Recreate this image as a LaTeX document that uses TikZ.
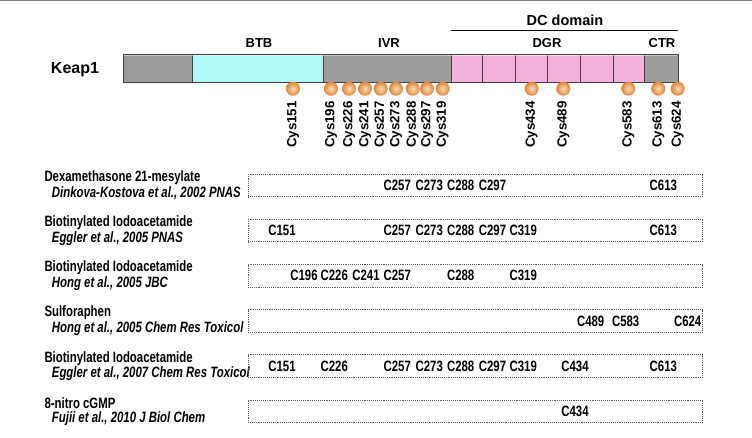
\documentclass[tikz,border=0pt]{standalone}
\usepackage{fontspec}
\setmainfont{Liberation Sans}
\newfontfamily\condfont[FakeStretch=0.76]{Liberation Sans}
\usepackage{xcolor}
\usetikzlibrary{calc}

\definecolor{keapgray}{RGB}{156,156,156}
\definecolor{btbcyan}{RGB}{176,248,248}
\definecolor{dgrpink}{RGB}{246,178,222}
\definecolor{ballhi}{RGB}{252,222,184}
\definecolor{balledge}{RGB}{222,132,58}

\tikzset{
  seg/.style={draw=black!75,line width=0.8pt},
  dom/.style={inner sep=0pt,font=\bfseries\fontsize{13}{15}\selectfont},
  cysball/.style={circle,inner sep=0pt,minimum size=14pt,shading=radial,inner color=ballhi,outer color=balledge},
  cyslab/.style={rotate=90,anchor=east,inner sep=0pt,font=\bfseries\fontsize{13.3}{15}\selectfont},
  agent/.style={anchor=west,inner sep=0pt,font=\condfont\bfseries\fontsize{15}{17}\selectfont},
  ref/.style={anchor=west,inner sep=0pt,font=\condfont\bfseries\itshape\fontsize{15}{17}\selectfont},
  rowbox/.style={draw=black!65,densely dotted,line width=0.9pt,minimum width=454.5pt,minimum height=22.5pt,inner sep=0pt},
  site/.style={inner sep=0pt,font=\condfont\bfseries\fontsize{15}{17}\selectfont}
}

\begin{document}
\begin{tikzpicture}[x=1pt,y=-1pt]
  \useasboundingbox (0,0) rectangle (752,437);
  % frame edge
  \coordinate (tl) at (0,0.6);
  \coordinate (tr) at (752,0.6);
  \draw[black!50,line width=1.2pt] (tl) -- (tr);

  % Keap1 bar
  \node[inner sep=0pt,font=\bfseries\fontsize{16}{18}\selectfont] (keap) at (75,70) {Keap1};
  \draw[seg,fill=keapgray] (123.3,54) rectangle (192.3,82.7);
  \draw[seg,fill=btbcyan] (192.3,54) rectangle (323.3,82.7);
  \draw[seg,fill=keapgray] (323.3,54) rectangle (451,82.7);
  \draw[seg,fill=dgrpink] (451,54) rectangle (482.5,82.7);
  \draw[seg,fill=dgrpink] (482.5,54) rectangle (515,82.7);
  \draw[seg,fill=dgrpink] (515,54) rectangle (547.7,82.7);
  \draw[seg,fill=dgrpink] (547.7,54) rectangle (580,82.7);
  \draw[seg,fill=dgrpink] (580,54) rectangle (613.3,82.7);
  \draw[seg,fill=dgrpink] (613.3,54) rectangle (644.3,82.7);
  \draw[seg,fill=keapgray] (644.3,54) rectangle (678.3,82.7);
  \draw[white,opacity=0.45,line width=1pt] (124.3,55.5) -- (677.3,55.5);

  % domains
  \node[dom] (btb) at (259,43) {BTB};
  \node[dom] (ivr) at (389,43) {IVR};
  \node[dom] (dgr) at (547,43) {DGR};
  \node[dom] (ctr) at (662,43) {CTR};
  \node[dom,font=\bfseries\fontsize{14.5}{16}\selectfont] (dc) at (565,20) {DC domain};
  \coordinate (dcl) at (451,30.7);
  \coordinate (dcr) at (678.3,30.7);
  \draw[line width=1.5pt] (dcl) -- (dcr);

  % cysteines
  \node[cysball] (b151) at (293,88.7) {};
  \node[cysball] (b196) at (331,88.7) {};
  \node[cysball] (b226) at (349,88.7) {};
  \node[cysball] (b241) at (365,88.7) {};
  \node[cysball] (b257) at (380.7,88.7) {};
  \node[cysball] (b273) at (396,88.7) {};
  \node[cysball] (b288) at (412.7,88.7) {};
  \node[cysball] (b297) at (427,88.7) {};
  \node[cysball] (b319) at (442.7,88.7) {};
  \node[cysball] (b434) at (531.7,88.7) {};
  \node[cysball] (b489) at (563.3,88.7) {};
  \node[cysball] (b583) at (628.3,88.7) {};
  \node[cysball] (b613) at (658.3,88.7) {};
  \node[cysball] (b624) at (677.7,88.7) {};

  \node[cyslab] (l151) at (293,101) {Cys151};
  \node[cyslab] (l196) at (331,101) {Cys196};
  \node[cyslab] (l226) at (349,101) {Cys226};
  \node[cyslab] (l241) at (365,101) {Cys241};
  \node[cyslab] (l257) at (380.7,101) {Cys257};
  \node[cyslab] (l273) at (396,101) {Cys273};
  \node[cyslab] (l288) at (412.7,101) {Cys288};
  \node[cyslab] (l297) at (427,101) {Cys297};
  \node[cyslab] (l319) at (442.7,101) {Cys319};
  \node[cyslab] (l434) at (531.7,101) {Cys434};
  \node[cyslab] (l489) at (563.3,101) {Cys489};
  \node[cyslab] (l583) at (628.3,101) {Cys583};
  \node[cyslab] (l613) at (658.3,101) {Cys613};
  \node[cyslab] (l624) at (677.7,101) {Cys624};

  % row 1
  \node[agent] (a1) at (44.3,177.7) {Dexamethasone 21-mesylate};
  \node[ref] (f1) at (51.7,193.3) {Dinkova-Kostova et al., 2002 PNAS};
  \node[rowbox] (box1) at (475.3,185.5) {};
  \node[site] (r1c257) at (397.3,185.5) {C257};
  \node[site] (r1c273) at (429.3,185.5) {C273};
  \node[site] (r1c288) at (460.7,185.5) {C288};
  \node[site] (r1c297) at (492.5,185.5) {C297};
  \node[site] (r1c613) at (663.3,185.5) {C613};

  % row 2
  \node[agent] (a2) at (44.3,222.8) {Biotinylated Iodoacetamide};
  \node[ref] (f2) at (51.7,238.4) {Eggler et al., 2005 PNAS};
  \node[rowbox] (box2) at (475.3,230.6) {};
  \node[site] (r2c151) at (282,230.6) {C151};
  \node[site] (r2c257) at (397.3,230.6) {C257};
  \node[site] (r2c273) at (429.3,230.6) {C273};
  \node[site] (r2c288) at (460.7,230.6) {C288};
  \node[site] (r2c297) at (492.5,230.6) {C297};
  \node[site] (r2c319) at (523.3,230.6) {C319};
  \node[site] (r2c613) at (663.3,230.6) {C613};

  % row 3
  \node[agent] (a3) at (44.3,268) {Biotinylated Iodoacetamide};
  \node[ref] (f3) at (51.7,283.6) {Hong et al., 2005 JBC};
  \node[rowbox] (box3) at (475.3,275.8) {};
  \node[site] (r3c196) at (304,275.8) {C196};
  \node[site] (r3c226) at (334.3,275.8) {C226};
  \node[site] (r3c241) at (366,275.8) {C241};
  \node[site] (r3c257) at (397.3,275.8) {C257};
  \node[site] (r3c288) at (460.7,275.8) {C288};
  \node[site] (r3c319) at (523.3,275.8) {C319};

  % row 4
  \node[agent] (a4) at (44.3,313.1) {Sulforaphen};
  \node[ref] (f4) at (51.7,328.7) {Hong et al., 2005 Chem Res Toxicol};
  \node[rowbox] (box4) at (475.3,320.9) {};
  \node[site] (r4c489) at (590.7,320.9) {C489};
  \node[site] (r4c583) at (625.7,320.9) {C583};
  \node[site] (r4c624) at (687.7,320.9) {C624};

  % row 5
  \node[agent] (a5) at (44.3,358.3) {Biotinylated Iodoacetamide};
  \node[ref] (f5) at (51.7,373.9) {Eggler et al., 2007 Chem Res Toxicol};
  \node[rowbox] (box5) at (475.3,366.1) {};
  \node[site] (r5c151) at (282,366.1) {C151};
  \node[site] (r5c226) at (334.3,366.1) {C226};
  \node[site] (r5c257) at (397.3,366.1) {C257};
  \node[site] (r5c273) at (429.3,366.1) {C273};
  \node[site] (r5c288) at (460.7,366.1) {C288};
  \node[site] (r5c297) at (492.5,366.1) {C297};
  \node[site] (r5c319) at (523.3,366.1) {C319};
  \node[site] (r5c434) at (575,366.1) {C434};
  \node[site] (r5c613) at (663.3,366.1) {C613};

  % row 6
  \node[agent] (a6) at (44.3,403.4) {8-nitro cGMP};
  \node[ref] (f6) at (51.7,419) {Fujii et al., 2010 J Biol Chem};
  \node[rowbox] (box6) at (475.3,411.2) {};
  \node[site] (r6c434) at (575,411.2) {C434};
\end{tikzpicture}
\end{document}
